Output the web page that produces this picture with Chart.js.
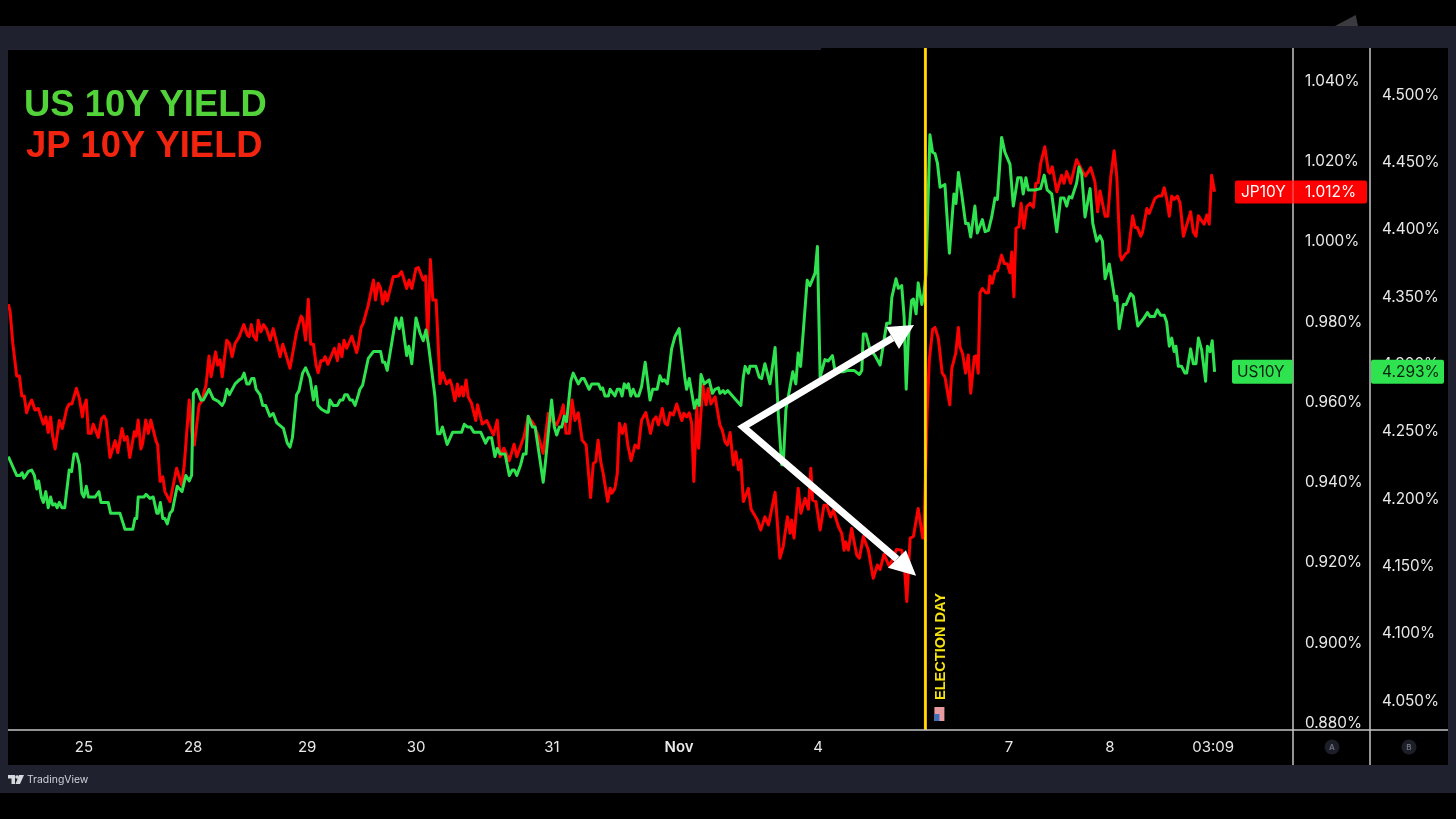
<!DOCTYPE html>
<html>
<head>
<meta charset="utf-8">
<title>US 10Y / JP 10Y</title>
<script src="https://cdn.jsdelivr.net/npm/chart.js@4"></script>
<style>
  html, body { margin: 0; background: #000; width: 1456px; height: 819px; overflow: hidden; }
  .frame { position: absolute; left: 0; top: 26px; width: 1456px; height: 767px; background: #1f222e; }
  .pane { position: absolute; left: 8px; top: 48px; width: 1440px; height: 717px; background: #000; }
  .lip { position: absolute; left: 8px; top: 48px; width: 813px; height: 2px; background: #1f222e; }
  .corner { position: absolute; left: 1335px; top: 15px; width: 23px; height: 11px; background: #3b3b3f; clip-path: polygon(0 100%, 90% 0, 100% 100%); }
  canvas { position: absolute; left: 0; top: 0; }
</style>
</head>
<body>
<div class="frame"></div>
<div class="pane"></div>
<div class="lip"></div>
<div class="corner"></div>
<canvas id="yields" width="1456" height="819"></canvas>
<script>
// x is a running bar number, y the yield in percent
const usBars = [
  0.1, 2.9, 4, 4.7, 5.3, 6.8, 7.9, 8.8, 9.6, 10.2, 11.1, 11.8, 12.6, 13.4, 14.2, 14.9, 15.7, 16.4, 17.1, 18, 18.9, 20.4, 21.2, 22, 22.9, 23.8, 24.6, 25.3, 26.1, 26.8,
  29, 30.3, 31, 33.4, 34.2, 37.3, 39, 41.6, 42.3, 42.9, 43.4, 45.3, 46, 47.3, 48.4, 49.6, 50.1, 50.8, 51.6, 52.3, 53.1, 54, 54.8, 56.4, 58, 59.3, 60.4, 61.2, 61.8, 62.9,
  64.3, 65.1, 67, 68.4, 70.1, 71.4, 72.1, 73, 73.8, 75.7, 77.1, 77.9, 78.7, 79.6, 80.4, 81.2, 82, 82.7, 84, 84.9, 85.9, 87.3, 88.4, 89.6, 91.8, 93.1, 94, 94.8, 96.2, 97,
  98.2, 99.2, 100.7, 101.8, 102.6, 103.3, 104.6, 106.2, 106.8, 107.3, 108.4, 109.8, 110.7, 111.6, 112.3, 113.1, 114, 114.8, 115.7, 116.8, 117.3, 118.2, 120.1,
  121.8, 124.2, 124.9, 125.6, 126.4, 128.1, 129.3, 130.4, 131.2, 132.9, 133.6, 134.6, 136, 137.3, 138.4, 139.3, 140.1, 142.3, 143.2, 144, 144.8, 146.4, 148.2, 151.2, 152.1, 153.1, 154.2, 155.3, 157.6,
  159.2, 160.1, 161.2, 162.3, 163.1, 164, 165.7, 167.1, 168.1, 168.8, 169.6, 170.9, 171.8, 172.7, 173.4, 174.8, 175.7, 177.3, 178.4, 179.1, 181.2, 182.1, 182.9, 183.8, 184.6, 185.4, 186.2, 187.6, 188.4,
  190.1, 191.2, 192, 193.7, 194.6, 196.8, 197.6, 198.2, 199, 200.1, 200.7, 202.3, 203.1, 204, 204.7, 205.4, 206.2, 206.8, 207.6, 208.4, 209.3, 210.2, 211.2, 212.4, 214, 214.9, 216.4, 217.3, 218.1, 218.8, 219.8,
  221.2, 222.3, 223.7, 225.7, 226.2, 227.1, 228.8, 229.6, 230.4, 231, 232.1, 233.7, 234.8, 235.7, 236.8, 237.3, 238.4, 239, 239.9, 240.7, 242.3, 244.3, 245.1, 245.7, 246.8, 247.3, 249.3, 250.4, 251.2, 252.3, 254,
  255.7, 256.8, 257.9, 258.4, 259.3, 261.6, 262.6, 263.4, 264.2, 266.4, 267.3, 269, 269.8, 270.7, 272.3, 273.4, 274.8, 275.7, 278.4, 280.1, 282, 283.8, 284.6, 285.1, 286, 287.3, 289, 290.7, 292.9, 294, 294.6, 296,
  296.8, 297.9, 298.7, 299.4, 300.1, 301.2, 301.8, 302.7, 303.4, 304.6, 305.3, 306, 307.3, 308.2, 309, 309.8, 310.7, 312.3, 313.8, 315.3, 316, 316.8, 317.9, 319.2, 320.1, 320.9, 322.3, 323.1, 324.8, 325.7, 326.8, 327.9,
  329, 329.8, 331.2, 332.3, 334, 335.1, 336.6, 337.7, 338.4, 339.3, 340.1, 342.3, 344.2, 345.4, 346.4, 347.9, 349.6, 350.9, 352, 352.9, 353.7, 354.6, 356.2, 357, 357.9, 359, 360.7, 361.6, 362.9, 364, 364.8, 365.7,
  367.1, 369, 369.6, 370.4, 371.8, 372.7, 374.2, 375.1, 376.6, 378.7, 379.8, 380.7, 382.1, 383.1, 384.2, 385.4, 386.2, 387.1, 387.9, 388.7, 389.3, 390.1, 391.2, 392.3, 392.9, 394.2, 395.1, 396, 396.8, 397.9, 399.2, 399.8, 400.7, 401.4, 402.2
];
const usYields = [
  4.230, 4.216, 4.216, 4.218, 4.214, 4.219, 4.220, 4.216, 4.206, 4.212, 4.200, 4.196, 4.204, 4.192, 4.200, 4.194, 4.195, 4.192, 4.196, 4.192, 4.192, 4.220, 4.219, 4.232, 4.232, 4.224, 4.203, 4.200, 4.208, 4.200,
  4.200, 4.204, 4.196, 4.196, 4.188, 4.188, 4.176, 4.176, 4.184, 4.184, 4.200, 4.200, 4.202, 4.199, 4.200, 4.188, 4.188, 4.196, 4.184, 4.184, 4.180, 4.188, 4.190, 4.208, 4.204, 4.216, 4.212, 4.216, 4.277, 4.280,
  4.272, 4.272, 4.280, 4.273, 4.271, 4.268, 4.271, 4.280, 4.276, 4.284, 4.287, 4.288, 4.292, 4.284, 4.284, 4.288, 4.288, 4.280, 4.276, 4.268, 4.268, 4.260, 4.262, 4.255, 4.251, 4.240, 4.237, 4.244, 4.276, 4.279,
  4.292, 4.296, 4.288, 4.272, 4.282, 4.268, 4.265, 4.263, 4.263, 4.272, 4.268, 4.268, 4.272, 4.272, 4.276, 4.276, 4.272, 4.272, 4.268, 4.276, 4.280, 4.283, 4.303,
  4.308, 4.308, 4.300, 4.300, 4.294, 4.317, 4.333, 4.325, 4.333, 4.305, 4.312, 4.299, 4.333, 4.322, 4.316, 4.324, 4.314, 4.275, 4.247, 4.247, 4.252, 4.239, 4.248, 4.248, 4.254, 4.252, 4.252, 4.248, 4.248,
  4.240, 4.244, 4.244, 4.230, 4.236, 4.232, 4.232, 4.216, 4.220, 4.220, 4.216, 4.224, 4.232, 4.232, 4.260, 4.252, 4.252, 4.228, 4.211, 4.225, 4.272, 4.252, 4.246, 4.252, 4.252, 4.260, 4.256, 4.286, 4.292,
  4.284, 4.288, 4.288, 4.280, 4.284, 4.284, 4.280, 4.281, 4.275, 4.275, 4.280, 4.275, 4.280, 4.280, 4.275, 4.284, 4.281, 4.284, 4.275, 4.280, 4.275, 4.275, 4.282, 4.300, 4.272, 4.280, 4.280, 4.290, 4.286, 4.287, 4.284,
  4.310, 4.319, 4.325, 4.287, 4.280, 4.288, 4.266, 4.272, 4.268, 4.291, 4.284, 4.287, 4.277, 4.280, 4.281, 4.277, 4.279, 4.277, 4.279, 4.277, 4.273, 4.268, 4.289, 4.297, 4.292, 4.297, 4.297, 4.289, 4.288, 4.299, 4.284,
  4.311, 4.260, 4.224, 4.224, 4.265, 4.293, 4.284, 4.307, 4.297, 4.361, 4.357, 4.366, 4.386, 4.289, 4.302, 4.301, 4.305, 4.293, 4.293, 4.294, 4.294, 4.291, 4.294, 4.321, 4.321, 4.310, 4.305, 4.298, 4.329, 4.329, 4.348, 4.362,
  4.355, 4.357, 4.334, 4.280, 4.317, 4.346, 4.347, 4.336, 4.359, 4.343, 4.351, 4.366, 4.469, 4.456, 4.455, 4.448, 4.430, 4.432, 4.381, 4.425, 4.418, 4.441, 4.425, 4.403, 4.403, 4.393, 4.416, 4.396, 4.406, 4.397, 4.398, 4.408,
  4.422, 4.421, 4.467, 4.456, 4.447, 4.416, 4.437, 4.437, 4.425, 4.437, 4.428, 4.428, 4.429, 4.439, 4.428, 4.425, 4.397, 4.422, 4.422, 4.416, 4.423, 4.422, 4.433, 4.445, 4.440, 4.408, 4.429, 4.403, 4.390, 4.394, 4.390, 4.362,
  4.373, 4.346, 4.349, 4.325, 4.343, 4.343, 4.351, 4.349, 4.327, 4.333, 4.337, 4.334, 4.334, 4.339, 4.335, 4.335, 4.330, 4.312, 4.318, 4.308, 4.312, 4.297, 4.297, 4.292, 4.292, 4.310, 4.299, 4.299, 4.318, 4.309, 4.286, 4.312, 4.308, 4.316, 4.293
];
const jpBars = [
  0.1, 0.7, 1.6, 2.9, 3.8, 4.6, 5.4, 6.2, 7.1, 7.9, 9, 10.1, 11.8, 12.6, 13.4, 14.2, 14.9, 15.7, 17.1, 18.1, 19.6, 20.4, 21.3, 22.8, 23.8, 24.8, 25.3, 26.1, 26.8, 27.7, 28.4, 30.1, 31.2, 32, 32.7, 34, 35.7, 36.6,
  38, 38.8, 39.7, 40.6, 42.1, 42.7, 43.4, 44.3, 44.9, 45.9, 46.8, 47.6, 48.7, 49.3, 49.9, 50.7, 51.6, 52.3, 54, 56.2, 57.9, 58.8, 60.4, 61.4, 62.1, 63.7, 64.5, 66, 67, 67.7, 69.2, 69.9, 70.7, 71.4, 72.9, 73.8, 74.7,
  75.7, 77.1, 78.6, 79.8, 80.4, 81.1, 81.9, 82.8, 83.4, 84.3, 85.2, 86.1, 87.4, 88.4, 90.7, 91.6, 92.7, 94, 96.2, 97.7, 98.2, 99.2, 100.1, 100.9, 101.8, 102.7, 103.4, 104.3, 105.1, 105.7, 106.6, 108.8, 109.8, 110.4, 111.3, 112, 112.9, 114.6, 116.2, 116.8, 117.7, 118.4, 120.1,
  121.8, 122.5, 123.4, 124.2, 124.9, 125.7, 126.4, 128.4, 130.1, 131.2, 132.9, 133.7, 134.6, 136, 136.8, 138.4, 139.2, 139.9, 140.8, 141.6, 142.7, 144, 144.9, 146.2, 147.3, 147.9, 149, 149.8, 150.4, 151.2, 151.8, 152.7, 153.4, 154.5, 155.9, 156.5, 158.1, 159.6, 161.8, 163.1, 164, 165.3, 167.1, 168.7, 169.6, 172, 173.4,
  175.1, 176.8, 178.4, 180.1, 181.2, 182.9, 184, 185.1, 186, 187.1, 188, 189, 190.1, 191.4, 192.7, 194.2, 195.1, 195.9, 196.7, 197.6, 198.4, 199.9, 200.7, 201.3, 202.3, 203.1, 203.8, 204.8, 205.7, 206.6, 207.7, 209, 210.1, 211.2, 212.6, 214.2, 215.1, 216, 216.8, 218.1, 219, 219.8, 220.7, 221.8, 222.9, 224.6, 225.3, 226.2, 227.1, 227.9, 228.6, 229.6, 230.2, 231.6, 232.7, 233.4, 234.3, 235.7, 237.3, 238.1, 239, 239.8, 240.7,
  241.8, 242.6, 243.5, 244.3, 245.1, 246.8, 247.7, 249.8, 250.9, 252.3, 253.5, 255.7, 257.3, 258.4, 259.8, 260.7, 261.2, 262, 263.4, 264.3, 265.7, 266.8, 267.6, 268.2, 269.3, 270.7, 272, 272.9, 274.2, 275.1, 276.8, 277.9, 278.7, 279.2, 280.1, 281.2, 282.9, 283.8, 285.1, 286.8, 288.4, 289.8, 290.7, 292, 293.8, 296.2, 297.9, 298.8, 299.6, 300.7, 301.8, 303.4, 304.9, 305.3,
  306.4, 307.1, 308.2, 309, 310.1, 311.4, 312.3, 313.9, 314.6, 315.9, 316.8, 317.3, 318.2, 319.2, 320.1, 320.9, 322.1, 322.7, 323.4, 324, 324.8, 325.9, 326.8, 327.3, 328.1, 329, 329.8, 331.2, 332.1, 333.1, 334, 334.6, 335.3, 336, 337, 337.7, 338.6, 339.6, 340.7, 341.8, 342.6, 343.4, 344.2, 345.6, 346.8, 347.3, 348.1, 349.6, 351.2, 352, 352.9, 354.2, 356.2, 357.9, 359.2, 360.9, 362.3, 363.2, 364, 365.7, 366.6, 367.6, 368.7, 369.6, 370.7, 371.2, 372.6, 373.4, 374.9, 375.7, 376.4, 377.6, 378.2, 379.6, 380.4, 382.3, 383.4, 384.6, 385.4, 386.2, 387.1, 387.9, 388.7, 389.8, 390.7, 391.8, 394.2, 395.1, 396, 396.8, 398.7, 399.6, 400.4, 401.2, 402.2
];
const jpYields = [
  .9842, .9823, .9744, .9663, .9663, .9613, .9613, .9571, .9591, .9603, .9578, .9582, .9543, .9561, .9522, .9561, .9512, .9481, .9552, .9532, .9582, .9593, .9593, .9632, .9607, .9561, .9586, .9603, .9520, .9520, .9543, .9510, .9557, .9563, .9553, .9460, .9502, .9472,
  .9532, .9503, .9512, .9460, .9524, .9513, .9553, .9481, .9495, .9553, .9520, .9553, .9520, .9502, .9491, .9400, .9412, .9375, .9350, .9433, .9391, .9445, .9603, .9507, .9491, .9591, .9599, .9640, .9713, .9661, .9723, .9690, .9703, .9661, .9752, .9744, .9711,
  .9744, .9761, .9791, .9765, .9761, .9791, .9762, .9752, .9802, .9773, .9791, .9781, .9752, .9781, .9711, .9742, .9715, .9682, .9773, .9812, .9806, .9752, .9854, .9742, .9742, .9690, .9671, .9701, .9701, .9711, .9692, .9732, .9701, .9742, .9711, .9752, .9732, .9762, .9721, .9740, .9784, .9794, .9840,
  .9902, .9852, .9894, .9881, .9842, .9873, .9850, .9910, .9912, .9923, .9881, .9902, .9881, .9931, .9933, .9902, .9912, .9752, .9953, .9852, .9852, .9644, .9671, .9643, .9653, .9640, .9601, .9643, .9613, .9636, .9613, .9653, .9611, .9595, .9552, .9591, .9543, .9552, .9516, .9553, .9462, .9483, .9452, .9493, .9462, .9512, .9561,
  .9545, .9512, .9470, .9570, .9553, .9541, .9561, .9591, .9520, .9520, .9603, .9552, .9571, .9503, .9491, .9360, .9445, .9449, .9503, .9449, .9420, .9350, .9383, .9371, .9383, .9420, .9545, .9520, .9543, .9491, .9452, .9491, .9483, .9553, .9572, .9520, .9553, .9561, .9541, .9582, .9545, .9541, .9571, .9566, .9593, .9552, .9570, .9561, .9571, .9545, .9400, .9586, .9483, .9640, .9591, .9632, .9593, .9611, .9541, .9528, .9499, .9491, .9522,
  .9441, .9474, .9429, .9454, .9350, .9383, .9331, .9304, .9279, .9312, .9292, .9373, .9209, .9238, .9312, .9271, .9304, .9259, .9383, .9321, .9358, .9331, .9433, .9354, .9350, .9279, .9341, .9341, .9312, .9329, .9288, .9271, .9229, .9250, .9229, .9283, .9217, .9209, .9263, .9229, .9159, .9192, .9181, .9219, .9188, .9231, .9229, .9188, .9101, .9259, .9263, .9333, .9259, .9259,
  .9578, .9703, .9779, .9784, .9757, .9670, .9661, .9591, .9682, .9719, .9784, .9736, .9719, .9670, .9715, .9620, .9711, .9713, .9670, .9870, .9881, .9870, .9870, .9912, .9894, .9923, .9925, .9964, .9943, .9942, .9920, .9972, .9860, 1.0031, 1.0035, 1.0093, 1.0031, 1.0085, 1.0093, 1.0083, 1.0143, 1.0144, 1.0192, 1.0234, 1.0172, 1.0168, 1.0184, 1.0122, 1.0163, 1.0143, 1.0172, 1.0143, 1.0202, 1.0176, 1.0161, 1.0182, 1.0147, 1.0072, 1.0124, 1.0061, 1.0061, 1.0159, 1.0224, 1.0159, .9964, .9952, .9968, .9972, 1.0062, 1.0033, 1.0033, 1.0011, 1.0022, 1.0080, 1.0068, 1.0105, 1.0111, 1.0111, 1.0132, 1.0105, 1.0061, 1.0111, 1.0103, 1.0111, 1.0093, 1.0011, 1.0072, 1.0022, 1.0011, 1.0062, 1.0041, 1.0064, 1.0041, 1.0163, 1.0122
];

const xTickBars = [25.3, 61.7, 99.7, 136, 181.3, 223.7, 270, 333.7, 367.3, 401.7];
const xTickLabels = ["25", "28", "29", "30", "31", "Nov", "4", "7", "8", "03:09"];
const jpTicks = [0.88, 0.9, 0.92, 0.94, 0.96, 0.98, 1.0, 1.02, 1.04];
const usTicks = [4.05, 4.1, 4.15, 4.2, 4.25, 4.3, 4.35, 4.4, 4.45, 4.5];

const electionBar = 305.8;
const lastJp = 1.012;
const lastUs = 4.293;
// arrows on the JP scale: [bar, yield]
const arrowStart = [243.7, 0.9536];
const arrowUp = { tip: [302, 0.979], barbs: [[292.7, 0.9785], [297, 0.973]] };
const arrowDown = { tip: [302.7, 0.9165], barbs: [[293.3, 0.9185], [299.3, 0.9229]] };

const FONT = "Inter, 'Noto Sans', sans-serif";
const GREEN = "#2fe24f";
const RED = "#ff0000";
const RULE = "#c4c4c4";

const toPoints = (bars, vals) => bars.map((b, i) => ({ x: b, y: vals[i] }));
const electionPoints = [{ x: electionBar, y: 0.8781 }, { x: electionBar, y: 1.048 }];

function fitWidth(w) {
  return (scale) => { scale.width = w; };
}

function tag(ctx, x, y, w, h, color) {
  ctx.fillStyle = color;
  ctx.beginPath();
  ctx.roundRect(x, y, w, h, 2);
  ctx.fill();
}

const overlay = {
  id: "overlay",
  afterDraw(chart) {
    const { ctx, scales } = chart;
    const px = (p) => [scales.x.getPixelForValue(p[0]), scales.yA.getPixelForValue(p[1])];
    const area = chart.chartArea;
    const mid = (a) => {
      const b1 = px(a.barbs[0]), b2 = px(a.barbs[1]);
      return [(b1[0] + b2[0]) / 2, (b1[1] + b2[1]) / 2];
    };
    ctx.save();

    // arrows
    const s = px(arrowStart), mU = mid(arrowUp), mD = mid(arrowDown);
    ctx.strokeStyle = "#fff";
    ctx.fillStyle = "#fff";
    ctx.lineWidth = 7;
    ctx.lineJoin = "miter";
    ctx.miterLimit = 4;
    ctx.beginPath();
    ctx.moveTo(mU[0], mU[1]);
    ctx.lineTo(s[0] + 4, s[1]);
    ctx.lineTo(mD[0], mD[1]);
    ctx.stroke();
    [arrowUp, arrowDown].forEach((a) => {
      const t = px(a.tip);
      const b1 = px(a.barbs[0]), b2 = px(a.barbs[1]);
      ctx.beginPath();
      ctx.moveTo(t[0], t[1]);
      ctx.lineTo(b1[0], b1[1]);
      ctx.lineTo(b2[0], b2[1]);
      ctx.closePath();
      ctx.fill();
    });

    // headline
    ctx.textBaseline = "alphabetic";
    ctx.textAlign = "left";
    ctx.font = "bold 36.4px 'Liberation Sans', Arial, sans-serif";
    ctx.fillStyle = "#52d33a";
    ctx.fillText("US 10Y YIELD", 24, 116);
    ctx.fillStyle = "#f1240f";
    ctx.fillText("JP 10Y YIELD", 26, 157);

    // election day label and little flag
    const ex = scales.x.getPixelForValue(electionBar);
    ctx.save();
    ctx.translate(ex + 20, 700);
    ctx.rotate(-Math.PI / 2);
    ctx.font = "bold 15.5px 'Liberation Sans', Arial, sans-serif";
    ctx.fillStyle = "#f7e40f";
    ctx.fillText("ELECTION DAY", 0, 0, 107);
    ctx.restore();
    ctx.fillStyle = "#e79aa0";
    ctx.fillRect(ex + 9, 707, 10, 14);
    ctx.fillStyle = "#3a6fc0";
    ctx.fillRect(ex + 9, 714, 5, 7);

    // axis rules
    ctx.strokeStyle = RULE;
    ctx.lineWidth = 1.5;
    ctx.beginPath();
    ctx.moveTo(8, area.bottom);
    ctx.lineTo(1448, area.bottom);
    ctx.moveTo(scales.yA.left, area.top);
    ctx.lineTo(scales.yA.left, 765);
    ctx.moveTo(scales.yB.left, area.top);
    ctx.lineTo(scales.yB.left, 765);
    ctx.stroke();

    // last value tags
    const jpY = scales.yA.getPixelForValue(lastJp);
    const usY = scales.yB.getPixelForValue(lastUs);
    ctx.font = "15.5px " + FONT;
    ctx.textBaseline = "middle";
    tag(ctx, 1235, jpY - 12, 132, 23, RED);
    ctx.strokeStyle = "rgba(255,255,255,0.45)";
    ctx.lineWidth = 1;
    ctx.beginPath();
    ctx.moveTo(scales.yA.left, jpY - 12);
    ctx.lineTo(scales.yA.left, jpY + 11);
    ctx.stroke();
    ctx.fillStyle = "#fff";
    ctx.fillText("JP10Y", 1241, jpY);
    ctx.fillText(lastJp.toFixed(3) + "%", 1305, jpY);
    tag(ctx, 1232, usY - 12, 61, 24, GREEN);
    tag(ctx, 1371, usY - 12, 73, 24, GREEN);
    ctx.fillStyle = "#07230c";
    ctx.fillText("US10Y", 1237, usY + 1);
    ctx.fillText(lastUs.toFixed(3) + "%", 1382, usY + 1);

    // scale badges under the price axes
    ctx.textAlign = "center";
    ctx.font = "600 8px " + FONT;
    [["A", 1332], ["B", 1409]].forEach(([t, x]) => {
      ctx.fillStyle = "#1d1f28";
      ctx.beginPath();
      ctx.arc(x, 747, 7.5, 0, Math.PI * 2);
      ctx.fill();
      ctx.fillStyle = "#70737f";
      ctx.fillText(t, x, 748);
    });

    // TradingView mark
    ctx.textAlign = "left";
    ctx.fillStyle = "#d6d8de";
    ctx.beginPath();
    ctx.moveTo(8, 775); ctx.lineTo(15, 775); ctx.lineTo(15, 784); ctx.lineTo(11.5, 784); ctx.lineTo(11.5, 778.5); ctx.lineTo(8, 778.5);
    ctx.closePath();
    ctx.moveTo(19, 775); ctx.lineTo(24, 775); ctx.lineTo(20, 784); ctx.lineTo(15.5, 784);
    ctx.closePath();
    ctx.fill();
    ctx.beginPath();
    ctx.arc(17, 777, 1.8, 0, Math.PI * 2);
    ctx.fill();
    ctx.font = "10.4px " + FONT;
    ctx.fillStyle = "#cfd2da";
    ctx.fillText("TradingView", 27, 779.5);
    ctx.restore();
  }
};

new Chart(document.getElementById("yields"), {
  type: "line",
  data: {
    datasets: [
      { label: "Election day", data: electionPoints, yAxisID: "yA", borderColor: "#ffe600", borderWidth: 1.8 },
      { label: "Election day edge", data: electionPoints, yAxisID: "yA", borderColor: "#f5a800", borderWidth: 3 },
      {
        label: "US10Y",
        data: toPoints(usBars, usYields),
        yAxisID: "yB",
        borderColor: GREEN,
        borderWidth: 3
      },
      {
        label: "JP10Y",
        data: toPoints(jpBars, jpYields),
        yAxisID: "yA",
        borderColor: RED,
        borderWidth: 3
      }
    ]
  },
  options: {
    responsive: false,
    animation: false,
    parsing: false,
    normalized: true,
    layout: { padding: { left: 8, top: 48, right: 8, bottom: 54 } },
    elements: { point: { radius: 0 }, line: { tension: 0, borderJoinStyle: "round" } },
    plugins: { legend: { display: false }, tooltip: { enabled: false } },
    scales: {
      x: {
        type: "linear",
        min: 0,
        max: 428.33,
        grid: { display: false, drawTicks: false },
        border: { display: false },
        afterFit: (scale) => { scale.height = 35; },
        afterBuildTicks: (scale) => { scale.ticks = xTickBars.map((v) => ({ value: v })); },
        ticks: {
          autoSkip: false,
          maxRotation: 0,
          padding: 8,
          color: "#e9e9e9",
          font: (c) => ({ family: FONT, size: 15, weight: xTickLabels[c.index] === "Nov" ? "600" : "400" }),
          callback: (v, i) => xTickLabels[i]
        }
      },
      yA: {
        type: "linear",
        position: "right",
        weight: 1,
        min: 0.8781,
        max: 1.048,
        grid: { display: false, drawTicks: false },
        border: { display: false },
        afterFit: fitWidth(77),
        afterBuildTicks: (scale) => { scale.ticks = jpTicks.map((v) => ({ value: v })); },
        ticks: {
          padding: 12,
          labelOffset: 1,
          color: "#e9e9e9",
          font: { family: FONT, size: 15.3 },
          callback: (v) => v.toFixed(3) + "%"
        }
      },
      yB: {
        type: "linear",
        position: "right",
        weight: 2,
        min: 4.027,
        max: 4.5334,
        grid: { display: false, drawTicks: false },
        border: { display: false },
        afterFit: fitWidth(78),
        afterBuildTicks: (scale) => { scale.ticks = usTicks.map((v) => ({ value: v })); },
        ticks: {
          padding: 12,
          labelOffset: 2,
          color: "#e9e9e9",
          font: { family: FONT, size: 15.3 },
          callback: (v) => v.toFixed(3) + "%"
        }
      }
    }
  },
  plugins: [overlay]
});
</script>
</body>
</html>
